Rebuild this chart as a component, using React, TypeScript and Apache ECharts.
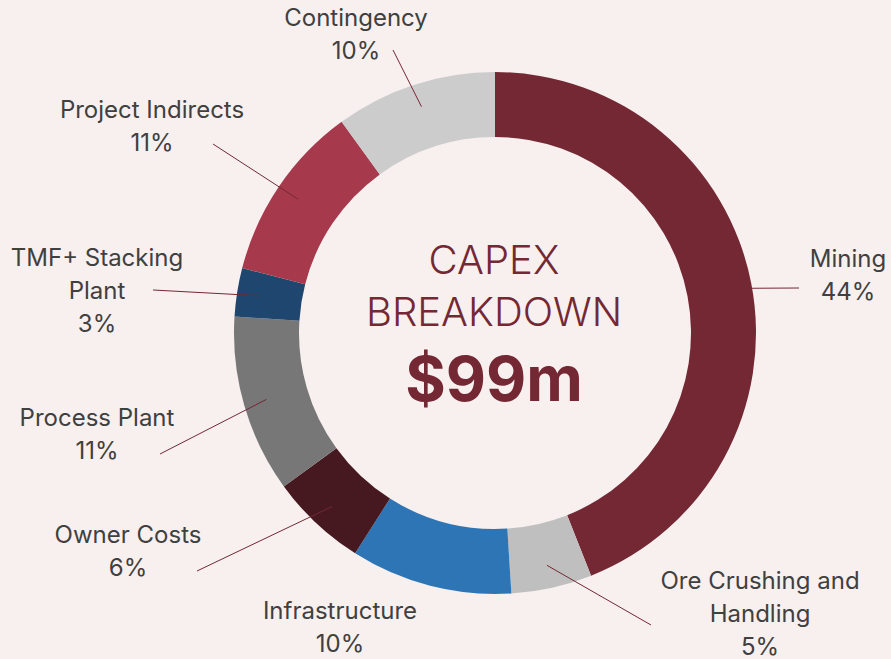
import React, { useEffect, useRef } from "react";
import * as echarts from "echarts";

const categories = [
  "Mining",
  "Ore Crushing and\nHandling",
  "Infrastructure",
  "Owner Costs",
  "Process Plant",
  "TMF+ Stacking\nPlant",
  "Project Indirects",
  "Contingency",
];
const shares = [44, 5, 10, 6, 11, 3, 11, 10];
const sliceColors = [
  "#742834",
  "#bfbfbf",
  "#2e75b6",
  "#46181f",
  "#777777",
  "#1e466e",
  "#a63a4c",
  "#cccccc",
];
const centerTitle = ["CAPEX", "BREAKDOWN"];
const centerValue = "$99m";

// layout (label anchor positions, leader-line end points)
const labelCenters: [number, number][] = [
  [848, 275],
  [760, 613],
  [340, 627],
  [128, 551],
  [97, 434],
  [97, 290],
  [152, 126],
  [356, 34],
];
const lineEnds: ([number, number] | null)[] = [
  [799, 288],
  [651, 625],
  null,
  [197, 571],
  [160, 454],
  [153, 290],
  [213, 144],
  [393, 50],
];

const CX = 495;
const CY = 333;
const R_IN = 196;
const R_OUT = 261;
const R_LINE = 238;
const BG = "#f7f0ef";
const ACCENT = "#742834";
const FONT = "Inter, 'Noto Sans', sans-serif";

export default function App() {
  const ref = useRef<HTMLDivElement>(null);
  useEffect(() => {
    if (!ref.current) return;
    const chart = echarts.init(ref.current, undefined, { renderer: "svg" });
    const total = shares.reduce((a, b) => a + b, 0);
    const midAngles: number[] = [];
    let acc = 0;
    shares.forEach((v) => {
      midAngles.push(((acc + v / 2) / total) * Math.PI * 2);
      acc += v;
    });

    const centerText = (text: string, y: number, size: number, weight: number) => ({
      type: "text",
      x: 494,
      y,
      z: 10,
      style: {
        text,
        align: "center",
        verticalAlign: "middle",
        fontSize: size,
        fontWeight: weight,
        fontFamily: FONT,
        fill: ACCENT,
      },
    });

    chart.setOption({
      animation: false,
      backgroundColor: BG,
      graphic: [
        centerText(centerTitle[0], 259, 40, 300),
        centerText(centerTitle[1], 311, 40, 300),
        centerText(centerValue, 378, 62, 700),
      ],
      series: [
        {
          type: "pie",
          z: 2,
          center: [CX, CY],
          radius: [R_IN, R_OUT],
          startAngle: 90,
          clockwise: true,
          silent: true,
          label: { show: false },
          labelLine: { show: false },
          data: categories.map((name, i) => ({
            name,
            value: shares[i],
            itemStyle: { color: sliceColors[i] },
          })),
        },
        {
          type: "pie",
          z: 5,
          center: [CX, CY],
          radius: [R_IN, R_OUT],
          startAngle: 90,
          clockwise: true,
          avoidLabelOverlap: false,
          silent: true,
          itemStyle: { color: "rgba(0,0,0,0)" },
          label: {
            show: true,
            position: "outside",
            formatter: "{b}\n{c}%",
            color: "#404040",
            fontSize: 24,
            lineHeight: 33,
            fontFamily: FONT,
            align: "center",
            overflow: "none",
          },
          labelLine: {
            show: true,
            length: 20,
            length2: 0,
            lineStyle: { color: ACCENT, width: 1 },
          },
          labelLayout: (params: any) => {
            const i = params.dataIndex;
            const out: any = {
              x: labelCenters[i][0],
              y: labelCenters[i][1],
              align: "center",
              verticalAlign: "middle",
            };
            const end = lineEnds[i];
            if (end) {
              const a = midAngles[i];
              out.labelLinePoints = [
                [CX + R_LINE * Math.sin(a), CY - R_LINE * Math.cos(a)],
                end,
              ];
            }
            return out;
          },
          data: categories.map((name, i) => ({
            name,
            value: shares[i],
            labelLine: { show: lineEnds[i] !== null },
          })),
        },
      ],
    });
    return () => chart.dispose();
  }, []);
  return (
    <div
      ref={ref}
      style={{ position: "absolute", left: 0, top: 0, width: 891, height: 659 }}
    />
  );
}
